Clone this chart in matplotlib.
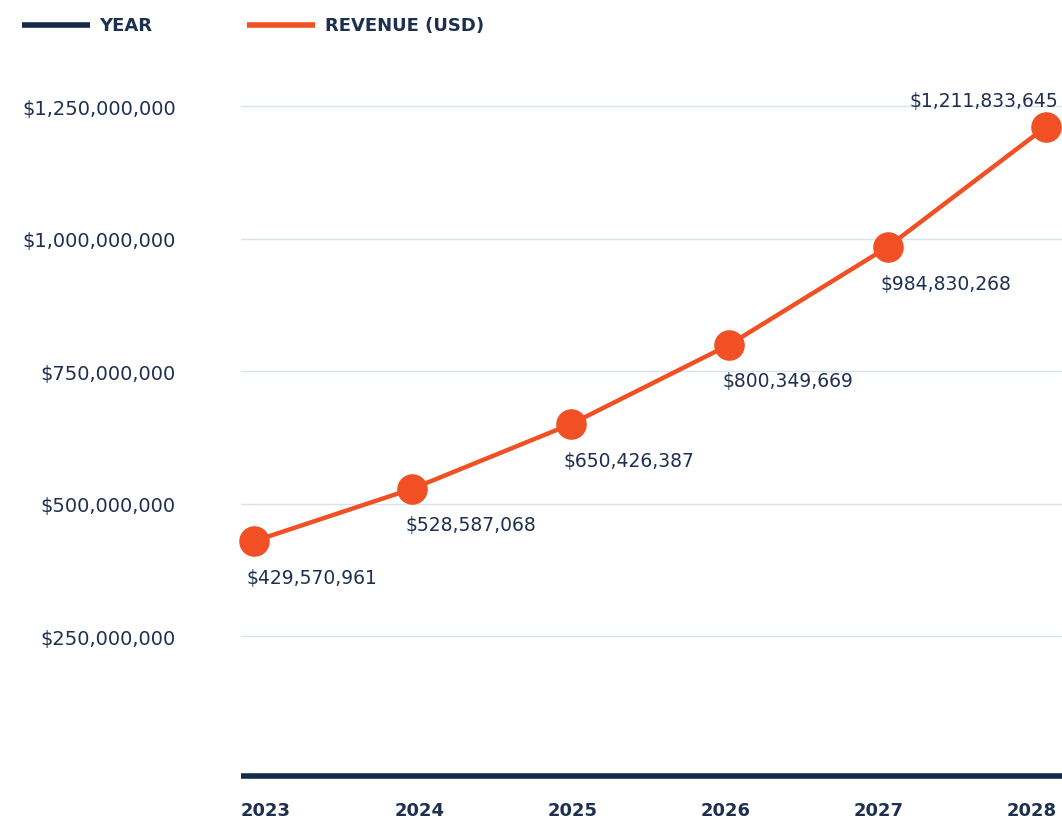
#!/usr/bin/env python3
"""Revenue (USD) by year, 2023-2028."""

import matplotlib.pyplot as plt
from matplotlib.lines import Line2D

years = [2023, 2024, 2025, 2026, 2027, 2028]
revenue = [429570961, 528587068, 650426387, 800349669, 984830268, 1211833645]
y_ticks = [250e6, 500e6, 750e6, 1000e6, 1250e6]

NAVY = "#14294b"
ORANGE = "#f05023"
GRID = "#d6e4ef"
TEXT = "#1e3050"


def money(v):
    return f"${v:,.0f}"


fig = plt.figure(figsize=(10.62, 8.2), dpi=100)
ax = fig.add_axes([241 / 1062, 0.0416, 1 - 241 / 1062, 0.892])

ax.plot(years, revenue, color=ORANGE, lw=3.2, marker="o", ms=21,
        solid_capstyle="round", zorder=3, clip_on=False)

for i, (yr, v) in enumerate(zip(years, revenue)):
    if i == len(years) - 1:
        ax.annotate(money(v), (yr, v), xytext=(9, 19), textcoords="offset points",
                    ha="right", va="center", fontsize=13.5, color=TEXT)
    else:
        ax.annotate(money(v), (yr, v), xytext=(-5, -26), textcoords="offset points",
                    ha="left", va="center", fontsize=13.5, color=TEXT)

ax.set_xlim(2022.92, 2028.1)
ax.set_ylim(-30e6, 1350e6)
ax.set_yticks(y_ticks)
ax.set_yticklabels([money(t) for t in y_ticks], fontsize=14, color=TEXT)
ax.tick_params(axis="y", length=0, pad=47)
ax.set_xticks([])
ax.grid(axis="y", color=GRID, lw=1)
ax.set_axisbelow(True)
for s in ax.spines.values():
    s.set_visible(False)

# thick baseline (the "YEAR" axis)
ax.axhline(-14e6, color=NAVY, lw=4, zorder=2, solid_capstyle="butt")

# year labels spread across the width
for i, yr in enumerate(years):
    ax.text(i * 0.1866, -0.022, str(yr), transform=ax.transAxes, ha="left", va="top",
            fontsize=13, fontweight="bold", color=TEXT)

# legend at top
ly = 1 - 26 / 820
fig.add_artist(Line2D([22 / 1062, 90 / 1062], [ly, ly], color=NAVY, lw=4,
                      solid_capstyle="butt"))
fig.text(99 / 1062, ly, "YEAR", ha="left", va="center",
         fontsize=13, fontweight="bold", color=TEXT)
fig.add_artist(Line2D([247 / 1062, 315 / 1062], [ly, ly], color=ORANGE, lw=4,
                      solid_capstyle="butt"))
fig.text(325 / 1062, ly, "REVENUE (USD)", ha="left", va="center",
         fontsize=13, fontweight="bold", color=TEXT)

fig.savefig("out.png", dpi=100)
